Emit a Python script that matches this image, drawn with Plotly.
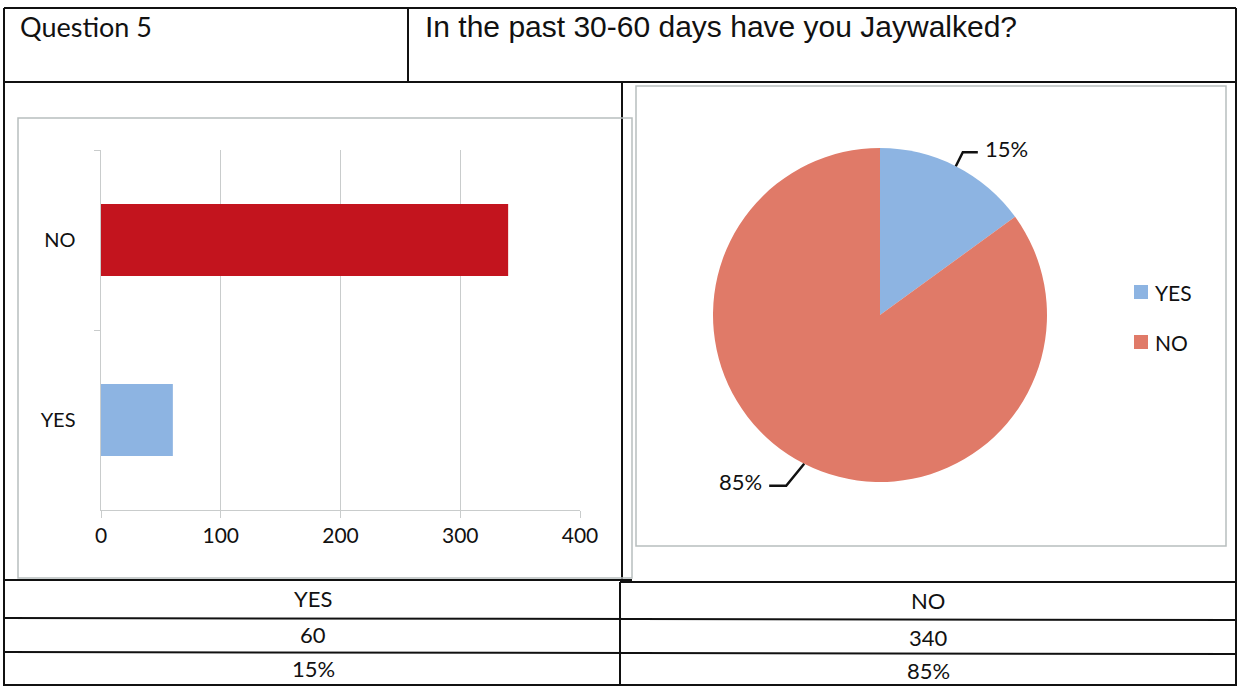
import math
import plotly.graph_objects as go

# ---- data ----
categories = ["YES", "NO"]
counts = [60, 340]
percents = ["15%", "85%"]
question_label = "Question 5"
question_text = "In the past 30-60 days have you Jaywalked?"
bar_colors = ["#8DB4E2", "#C3141E"]
pie_colors = ["#8DB4E2", "#E07A68"]
x_ticks = [0, 100, 200, 300, 400]

W, H = 1241, 687
def px(x):
    return x / W
def py(y):
    return 1 - y / H

CAL = "Lato, 'Open Sans', sans-serif"
ARI = "'Liberation Sans', Arial, sans-serif"

fig = go.Figure()

# bar chart
fig.add_trace(go.Bar(
    x=counts, y=categories, orientation="h",
    marker=dict(color=bar_colors, line=dict(width=0)),
    width=0.4, showlegend=False, hoverinfo="x+y",
))

# pie chart
cx, cy, r = 880, 315, 167
fig.add_trace(go.Pie(
    labels=categories, values=counts, sort=False, direction="clockwise",
    rotation=0, marker=dict(colors=pie_colors, line=dict(width=0)),
    textinfo="none", hole=0, automargin=False,
    domain=dict(x=[px(cx - r), px(cx + r)], y=[py(cy + r), py(cy - r)]),
    showlegend=False,
))

shapes = []
def line(x0, y0, x1, y1, color="#111", w=2):
    shapes.append(dict(type="line", xref="paper", yref="paper",
                       x0=px(x0), y0=py(y0), x1=px(x1), y1=py(y1),
                       line=dict(color=color, width=w)))

# top table
line(4, 8, 1236, 8)
line(4, 82, 1236, 82)
line(4, 8, 4, 686)
line(1236, 8, 1236, 686)
line(408, 8, 408, 82)
line(622, 82, 622, 582)
# chart frames
gray = "#B8BEBE"
shapes.append(dict(type="rect", xref="paper", yref="paper",
                   x0=px(18), y0=py(578), x1=px(632), y1=py(118),
                   line=dict(color=gray, width=1.5)))
shapes.append(dict(type="rect", xref="paper", yref="paper",
                   x0=px(636), y0=py(546), x1=px(1226), y1=py(86),
                   line=dict(color=gray, width=1.5)))
# bottom table
line(4, 580, 632, 580)
line(620, 582, 1236, 582)
line(620, 582, 620, 686)
line(4, 618, 1236, 620)
line(4, 652, 1236, 654)
line(4, 685, 1236, 685)

# pie leader lines computed from slice mid-angles
total = sum(counts)
annotations = []
cum = 0
for i, v in enumerate(counts):
    mid = (cum + v / 2) / total * 2 * math.pi
    cum += v
    ex, ey = cx + r * math.sin(mid), cy - r * math.cos(mid)
    right = math.sin(mid) >= 0
    if right:
        kx, ky = ex + 7, ey - 14
        hx = kx + 15
    else:
        kx, ky = ex - 18, ey + 22
        hx = kx - 17
    shapes.append(dict(type="path", xref="paper", yref="paper",
                       path=f"M {px(ex)},{py(ey)} L {px(kx)},{py(ky)} L {px(hx)},{py(ky)}",
                       line=dict(color="#111", width=2.5)))
    annotations.append(dict(xref="paper", yref="paper", x=px(hx + (5 if right else -5)),
                            y=py(ky - 4), text=percents[i], showarrow=False,
                            xanchor="left" if right else "right", yanchor="middle",
                            font=dict(family=CAL, size=22, color="#111")))

# manual legend (from pie categories / colours)
leg_x, leg_y0, leg_dy = 1134, 292, 50
for i, lab in enumerate(categories):
    yc = leg_y0 + i * leg_dy
    shapes.append(dict(type="rect", xref="paper", yref="paper",
                       x0=px(leg_x), x1=px(leg_x + 14), y0=py(yc + 7), y1=py(yc - 7),
                       fillcolor=pie_colors[i], line=dict(width=0)))
    annotations.append(dict(xref="paper", yref="paper", x=px(leg_x + 19), y=py(yc),
                            text=lab, showarrow=False, xanchor="left", yanchor="middle",
                            font=dict(family=CAL, size=21, color="#111")))

# texts
annotations.append(dict(xref="paper", yref="paper", x=px(18), y=py(27), text=question_label,
                        showarrow=False, xanchor="left", yanchor="middle",
                        font=dict(family=CAL, size=27, color="#111")))
annotations.append(dict(xref="paper", yref="paper", x=px(423), y=py(27), text=question_text,
                        showarrow=False, xanchor="left", yanchor="middle",
                        font=dict(family=ARI, size=30, color="#111")))
col_centers = [313, 928]
row_ys = [[598, 634, 668], [600, 637, 670]]
for i in range(2):
    for j, t in enumerate([categories[i], str(counts[i]), percents[i]]):
        annotations.append(dict(xref="paper", yref="paper", x=px(col_centers[i]), y=py(row_ys[i][j]),
                                text=t, showarrow=False, xanchor="center", yanchor="middle",
                                font=dict(family=CAL, size=22, color="#111")))

fig.update_layout(
    width=W, height=H, autosize=False,
    margin=dict(l=0, r=0, t=0, b=0, pad=0, autoexpand=False),
    paper_bgcolor="white", plot_bgcolor="white",
    shapes=shapes, annotations=annotations, showlegend=False,
    xaxis=dict(domain=[px(101), px(580)], range=[0, 400], tickvals=x_ticks,
               showgrid=True, gridcolor="#C9CCCC", gridwidth=1.2, automargin=False,
               showline=True, linecolor="#C9CCCC", ticks="outside", ticklen=7,
               tickcolor="#C9CCCC", zeroline=False,
               tickfont=dict(family=CAL, size=21, color="#111"), anchor="y"),
    yaxis=dict(domain=[py(510), py(150)], categoryorder="array", categoryarray=categories,
               showline=True, linecolor="#C9CCCC", ticks="outside", ticklen=6,
               tickcolor="#C9CCCC", tickson="boundaries", showgrid=False, automargin=False,
               tickfont=dict(family=CAL, size=20, color="#111"), ticksuffix="    "),
    hovermode="closest",
)

fig.write_html(
    "out.html",
    config={"displayModeBar": False, "responsive": False},
    post_script="document.body.style.margin='0';document.body.style.overflow='hidden';",
)
